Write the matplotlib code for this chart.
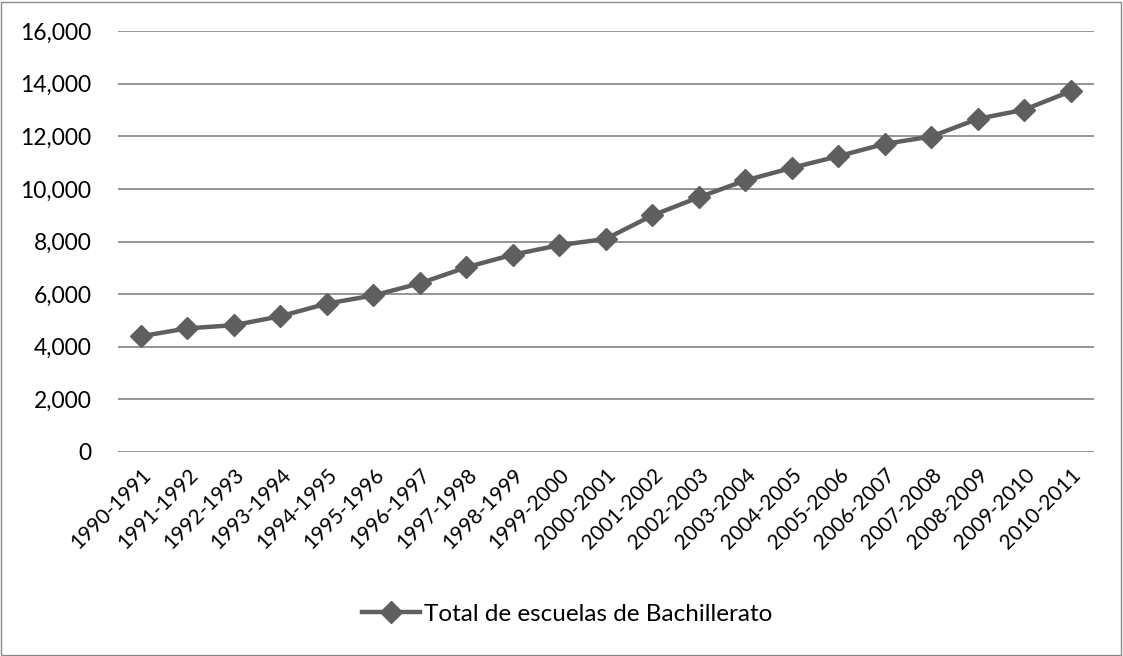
import matplotlib.pyplot as plt
from matplotlib.ticker import FuncFormatter
from matplotlib.patches import Rectangle

ciclos = ['1990-1991', '1991-1992', '1992-1993', '1993-1994', '1994-1995',
          '1995-1996', '1996-1997', '1997-1998', '1998-1999', '1999-2000',
          '2000-2001', '2001-2002', '2002-2003', '2003-2004', '2004-2005',
          '2005-2006', '2006-2007', '2007-2008', '2008-2009', '2009-2010',
          '2010-2011']
escuelas = [4400, 4700, 4820, 5160, 5640, 5950, 6410, 7020, 7500, 7860,
            8100, 8990, 9680, 10320, 10800, 11240, 11710, 11990, 12660,
            13010, 13710]
y_ticks = [0, 2000, 4000, 6000, 8000, 10000, 12000, 14000, 16000]

plt.rcParams['font.family'] = ['Lato', 'DejaVu Sans']

fig = plt.figure(figsize=(11.23, 6.56), dpi=100)
ax = fig.add_axes([117.75 / 1123, 1 - 452 / 656, (1094 - 117.75) / 1123, (452 - 31) / 656])

x = range(len(ciclos))
ax.plot(x, escuelas, color='#5f5f5f', lw=3.2, marker='D', markersize=11,
        label='Total de escuelas de Bachillerato', zorder=3)

ax.set_xlim(-0.5, len(ciclos) - 0.5)
ax.set_ylim(0, 16000)
ax.set_yticks(y_ticks)
ax.yaxis.set_major_formatter(FuncFormatter(lambda v, p: f'{int(v):,}'))
ax.set_xticks(list(x))
ax.set_xticklabels(ciclos, rotation=45, ha='right', rotation_mode='anchor')
ax.tick_params(length=0, colors='black')
ax.tick_params(axis='x', labelsize=15, pad=9)
ax.tick_params(axis='y', labelsize=16.5, pad=19)
ax.grid(axis='y', color='#8c8c8c', lw=1.3)
ax.set_axisbelow(True)
for s in ax.spines.values():
    s.set_visible(False)

ax.legend(loc='center', bbox_to_anchor=(0.46, -0.385), frameon=False,
          fontsize=17.5, handlelength=2.4, handletextpad=0.15)

fig.patches.append(Rectangle((0.001, 0.002), 0.997, 0.995, transform=fig.transFigure,
                             fill=False, edgecolor='#8a8a8a', lw=1))

fig.savefig('out.png', dpi=100)
